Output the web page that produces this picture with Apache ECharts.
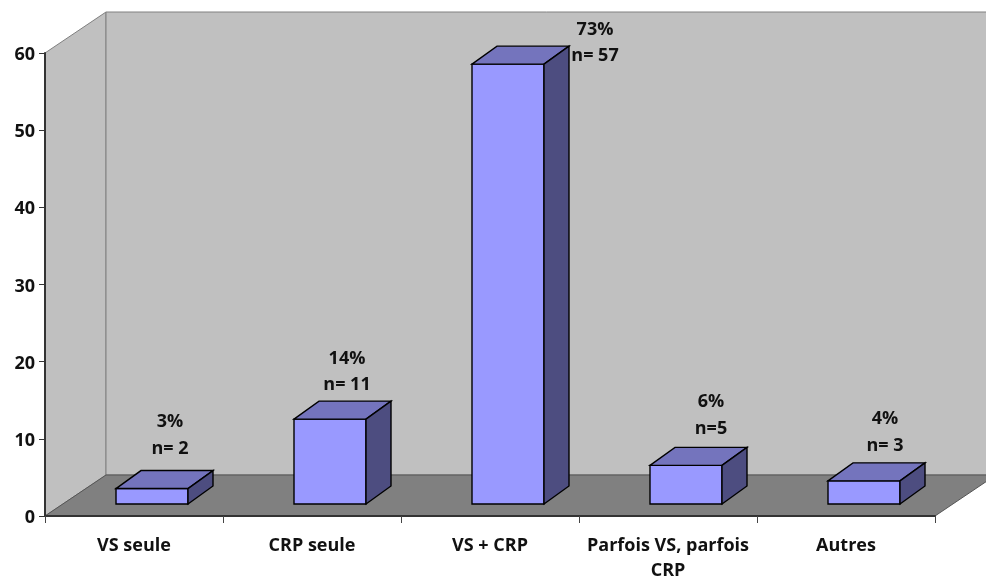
<!DOCTYPE html>
<html>
<head>
<meta charset="utf-8">
<style>html,body{margin:0;padding:0;background:#fff}#c{width:986px;height:581px}</style>
<script src="https://cdn.jsdelivr.net/npm/echarts@6/dist/echarts.min.js"></script>
</head>
<body>
<div id="c"></div>
<script>
const categories = ["VS seule", "CRP seule", "VS + CRP", "Parfois VS, parfois\nCRP", "Autres"];
const counts = [2, 11, 57, 5, 3];
const percentLabels = ["3%", "14%", "73%", "6%", "4%"];
const countLabels = ["n= 2", "n= 11", "n= 57", "n=5", "n= 3"];
const yTicks = { min: 0, max: 60, interval: 10 };

// Layout only: 3D projection and hand-placed label nudges
const WALL = { dx: 61, dy: -41 };
const BAR = { shiftX: 18, shiftY: -12, width: 72, dx: 25, dy: -18 };
const LABEL_NUDGE = [[-18, -40], [-19, -34], [51, -8], [-11, -37], [-15, -35]];
const FONT = '"Open Sans", "Noto Sans", sans-serif';

function poly(points, fill, stroke, width) {
  return { type: 'polygon', shape: { points }, style: { fill, stroke: stroke || fill, lineWidth: width || 1 } };
}

function renderWalls(params, api) {
  const cs = params.coordSys;
  const l = cs.x, r = cs.x + cs.width;
  const t = api.coord([0, yTicks.max])[1], b = api.coord([0, yTicks.min])[1];
  const d = WALL;
  return { type: 'group', children: [
    poly([[l, t], [l + d.dx, t + d.dy], [l + d.dx, b + d.dy], [l, b]], '#c0c0c0', '#808080'),
    poly([[l + d.dx, t + d.dy], [r + d.dx, t + d.dy], [r + d.dx, b + d.dy], [l + d.dx, b + d.dy]], '#c0c0c0', '#808080'),
    poly([[l, b], [l + d.dx, b + d.dy], [r + d.dx, b + d.dy], [r, b]], '#808080', '#555555')
  ]};
}

function renderBar(params, api) {
  const i = params.dataIndex;
  const base = api.coord([i, 0]);
  const top = api.coord([i, api.value(1)]);
  const x0 = base[0] + BAR.shiftX - BAR.width / 2, x1 = x0 + BAR.width;
  const yb = base[1] + BAR.shiftY, yt = top[1] + BAR.shiftY;
  const dx = BAR.dx, dy = BAR.dy;
  const lx = base[0] + BAR.shiftX + BAR.width / 2 + LABEL_NUDGE[i][0];
  const ly = yt + LABEL_NUDGE[i][1];
  const txt = (s, y) => ({ type: 'text', z2: 10, style: { text: s, x: lx, y, align: 'center', verticalAlign: 'middle',
    font: 'bold 18px ' + FONT, fill: '#111' } });
  return { type: 'group', children: [
    poly([[x0, yb], [x1, yb], [x1, yt], [x0, yt]], '#9999ff', '#000', 1.4),
    poly([[x0, yt], [x0 + dx, yt + dy], [x1 + dx, yt + dy], [x1, yt]], '#7474bd', '#000', 1.4),
    poly([[x1, yb], [x1 + dx, yb + dy], [x1 + dx, yt + dy], [x1, yt]], '#4d4d80', '#000', 1.4),
    txt(percentLabels[i], ly - 26.5),
    txt(countLabels[i], ly)
  ]};
}

const chart = echarts.init(document.getElementById('c'), null, { renderer: 'canvas' });
chart.setOption({
  animation: false,
  backgroundColor: '#fff',
  grid: { left: 45, right: 51, top: 53, bottom: 65, containLabel: false, outerBoundsMode: 'none' },
  xAxis: {
    type: 'category', data: categories, z: 5,
    axisLine: { show: true, lineStyle: { color: '#333', width: 2 } },
    axisTick: { show: true, alignWithLabel: false, length: 7, lineStyle: { color: '#444', width: 1 } },
    axisLabel: { interval: 0, margin: 17, lineHeight: 25, color: '#111', fontWeight: 'bold', fontSize: 18, fontFamily: FONT }
  },
  yAxis: {
    type: 'value', min: yTicks.min, max: yTicks.max, interval: yTicks.interval, z: 5,
    splitLine: { show: false },
    axisLine: { show: true, lineStyle: { color: '#333', width: 2 } },
    axisTick: { show: true, length: 6, lineStyle: { color: '#333', width: 1 } },
    axisLabel: {
      margin: 10,
      formatter: '{a|{value}}',
      rich: { a: { padding: [4, 0, 0, 0], color: '#111', fontWeight: 'bold', fontSize: 18, fontFamily: FONT } }
    }
  },
  series: [
    { type: 'custom', z: 1, silent: true, renderItem: renderWalls, data: [[0, 0]], encode: { x: 0, y: 1 }, clip: false },
    { type: 'custom', z: 3, renderItem: renderBar, data: counts.map((v, i) => [i, v]), encode: { x: 0, y: 1 }, clip: false }
  ]
});
</script>
</body>
</html>
